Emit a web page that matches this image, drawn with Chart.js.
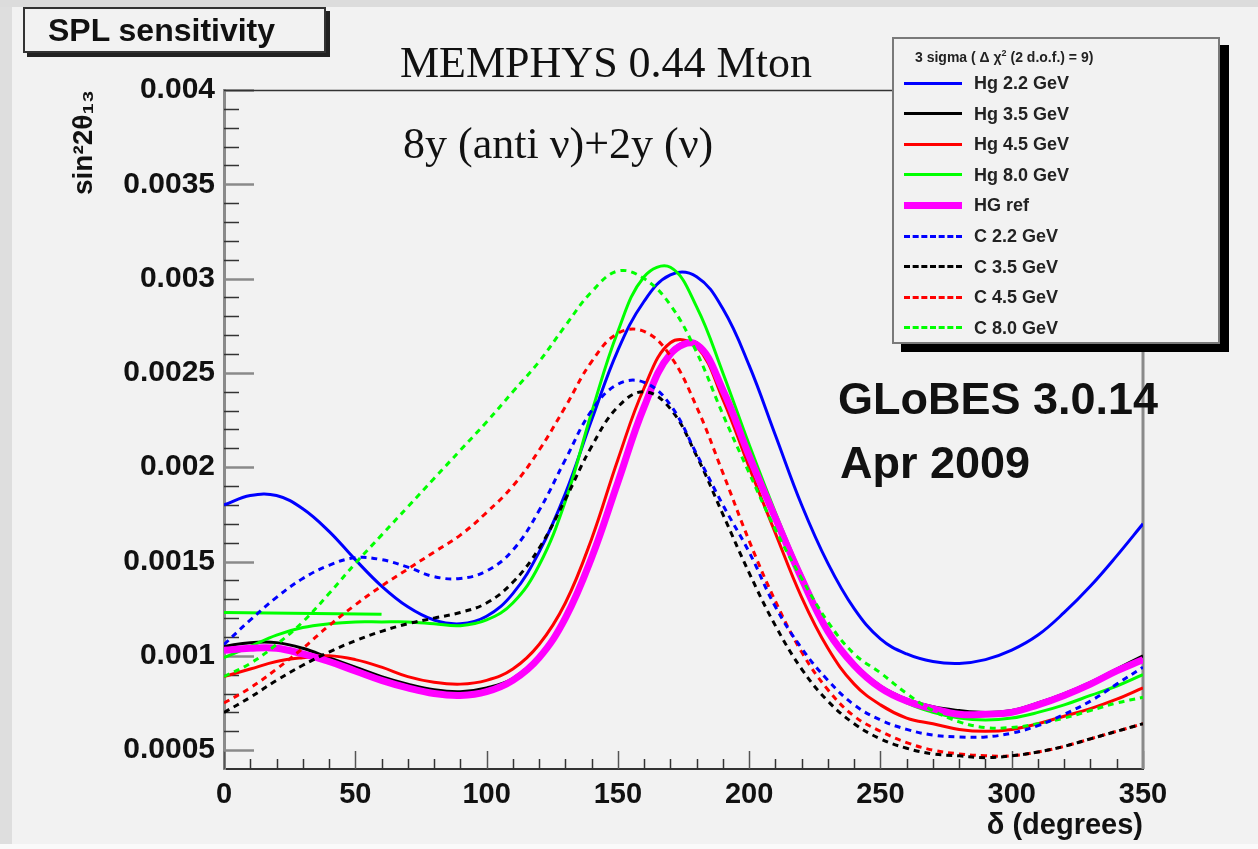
<!DOCTYPE html>
<html>
<head>
<meta charset="utf-8">
<script src="https://cdn.jsdelivr.net/npm/chart.js@4.4.1/dist/chart.umd.min.js"></script>
<style>
    body {
        margin: 0;
        width: 1258px;
        height: 849px;
        overflow: hidden;
        position: relative;
        background: #f2f2f2;
        font-family: "Liberation Sans", Arial, sans-serif;
    }
    .edgeLeft { position: absolute; left: 0; top: 0; width: 12px; height: 849px; background: #dedede; }
    .edgeTop { position: absolute; left: 0; top: 0; width: 1258px; height: 7px; background: #dcdcdc; }
    .edgeBottom { position: absolute; left: 0; top: 844px; width: 1258px; height: 5px; background: #fafafa; }
    #chart { position: absolute; left: 0; top: 0; }
    .note { position: absolute; white-space: nowrap; line-height: 1; color: #111; }
    .serif { font-family: "Liberation Serif", "Times New Roman", serif; font-size: 44px; }
    .big { font-weight: bold; font-size: 45px; }
    #splBox {
        position: absolute; left: 23px; top: 7px; width: 303px; height: 46px;
        box-sizing: border-box; border: 2px solid #333; background: #f2f2f2;
        box-shadow: 4px 4px 0 #222;
        font-weight: bold; font-size: 32px; line-height: 42px; padding-left: 23px; color: #111;
    }
    #legend {
        position: absolute; left: 892px; top: 37px; width: 328px; height: 307px;
        box-sizing: border-box; border: 2px solid #7a7a7a; background: #f2f2f2;
        box-shadow: 9px 8px 0 #000;
    }
    #legend .head { position: absolute; left: 21px; top: 9px; font-weight: bold; font-size: 14px; color: #222; white-space: nowrap; }
    #legend .row { position: absolute; left: 0; height: 0; }
    #legend .sample { position: absolute; left: 10px; width: 58px; }
    #legend .txt { position: absolute; left: 80px; top: -10px; font-weight: bold; font-size: 18px; line-height: 20px; color: #222; white-space: nowrap; }
</style>
</head>
<body>
<div class="edgeLeft"></div>
<div class="edgeTop"></div>
<div class="edgeBottom"></div>
<canvas id="chart" width="1258" height="849"></canvas>
<div id="splBox">SPL sensitivity</div>
<div class="note serif" style="left:400px; top:41px;">MEMPHYS 0.44 Mton</div>
<div class="note serif" style="left:403px; top:122px;">8y (anti ν)+2y (ν)</div>
<div class="note big" style="left:838px; top:376px;">GLoBES 3.0.14</div>
<div class="note big" style="left:840px; top:440px;">Apr 2009</div>
<div id="legend"><div class="head">3 sigma ( Δ χ<sup style="font-size:9px">2</sup> (2 d.o.f.) = 9)</div></div>
<script>
// delta CP (degrees)
const delta = [0, 10, 20, 30, 40, 50, 60, 70, 80, 90, 100, 110, 120, 130, 140, 150, 160, 170,
    180, 190, 200, 210, 220, 230, 240, 250, 260, 270, 280, 290, 300, 310, 320, 330, 340, 350]

// sin^2 2theta13 sensitivity
const hg22 = [0.00180, 0.00185, 0.00185, 0.00178, 0.00166, 0.00151, 0.00137, 0.00126, 0.00119, 0.00117,
    0.00121, 0.00133, 0.00155, 0.00186, 0.00225, 0.00262, 0.00288, 0.00302, 0.00301, 0.00284,
    0.00254, 0.00217, 0.00180, 0.00149, 0.00125, 0.00109, 0.00101, 0.00097, 0.00096, 0.00098,
    0.00103, 0.00111, 0.00123, 0.00137, 0.00153, 0.00170]
const hg35 = [0.00105, 0.00107, 0.00107, 0.00104, 0.00099, 0.00094, 0.00089, 0.00085, 0.00082, 0.00081,
    0.00083, 0.00088, 0.00100, 0.00121, 0.00153, 0.00193, 0.00233, 0.00261, 0.00266, 0.00242,
    0.00207, 0.00174, 0.00142, 0.00114, 0.00096, 0.00084, 0.00077, 0.00073, 0.00071, 0.00070,
    0.00071, 0.00075, 0.00080, 0.00086, 0.00093, 0.00100]
const hg45 = [0.00089, 0.00093, 0.00097, 0.00099, 0.00100, 0.00098, 0.00094, 0.00089, 0.00086, 0.00085,
    0.00087, 0.00093, 0.00106, 0.00128, 0.00162, 0.00204, 0.00242, 0.00266, 0.00264, 0.00236,
    0.00200, 0.00165, 0.00131, 0.00104, 0.00085, 0.00074, 0.00067, 0.00064, 0.00061, 0.00060,
    0.00061, 0.00064, 0.00068, 0.00072, 0.00077, 0.00083]
const hg80 = [0.00099, 0.00105, 0.00111, 0.00115, 0.00117, 0.00118, 0.00118, 0.00118, 0.00117, 0.00116,
    0.00119, 0.00128, 0.00148, 0.00182, 0.00229, 0.00272, 0.00301, 0.00306, 0.00285, 0.00250,
    0.00212, 0.00176, 0.00143, 0.00114, 0.00095, 0.00083, 0.00075, 0.00070, 0.00067, 0.00066,
    0.00067, 0.00070, 0.00074, 0.00079, 0.00084, 0.00090]
const hgRef = [0.00103, 0.00104, 0.00104, 0.00101, 0.00097, 0.00092, 0.00087, 0.00083, 0.00080, 0.00079,
    0.00081, 0.00087, 0.00099, 0.00120, 0.00152, 0.00192, 0.00232, 0.00260, 0.00265, 0.00241,
    0.00206, 0.00173, 0.00141, 0.00113, 0.00095, 0.00083, 0.00076, 0.00072, 0.00069, 0.00069,
    0.00070, 0.00074, 0.00079, 0.00085, 0.00092, 0.00098]
const c22 = [0.00106, 0.00119, 0.00131, 0.00141, 0.00148, 0.00152, 0.00151, 0.00147, 0.00142, 0.00141,
    0.00145, 0.00156, 0.00177, 0.00204, 0.00230, 0.00244, 0.00245, 0.00233, 0.00207, 0.00180,
    0.00155, 0.00126, 0.00104, 0.00087, 0.00074, 0.00066, 0.00061, 0.00058, 0.00057, 0.00057,
    0.00059, 0.00063, 0.00069, 0.00076, 0.00085, 0.00094]
const c35 = [0.00070, 0.00078, 0.00087, 0.00095, 0.00102, 0.00108, 0.00113, 0.00117, 0.00120, 0.00123,
    0.00128, 0.00139, 0.00157, 0.00183, 0.00211, 0.00232, 0.00240, 0.00231, 0.00206, 0.00175,
    0.00144, 0.00116, 0.00093, 0.00076, 0.00064, 0.00056, 0.00051, 0.00048, 0.00047, 0.00046,
    0.00047, 0.00049, 0.00052, 0.00056, 0.00060, 0.00064]
const c45 = [0.00075, 0.00083, 0.00093, 0.00104, 0.00116, 0.00127, 0.00137, 0.00146, 0.00155, 0.00164,
    0.00176, 0.00190, 0.00209, 0.00232, 0.00256, 0.00271, 0.00272, 0.00259, 0.00232, 0.00197,
    0.00161, 0.00129, 0.00102, 0.00082, 0.00068, 0.00060, 0.00054, 0.00050, 0.00048, 0.00047,
    0.00047, 0.00049, 0.00052, 0.00056, 0.00060, 0.00064]
const c80 = [0.00089, 0.00096, 0.00106, 0.00118, 0.00133, 0.00149, 0.00164, 0.00179, 0.00194, 0.00209,
    0.00224, 0.00240, 0.00256, 0.00275, 0.00293, 0.00304, 0.00300, 0.00286, 0.00261, 0.00228,
    0.00197, 0.00167, 0.00141, 0.00118, 0.00101, 0.00091, 0.00080, 0.00071, 0.00065, 0.00062,
    0.00062, 0.00064, 0.00067, 0.00071, 0.00075, 0.00078]

// the short flat green piece at the left edge
const hg80StubDelta = [0, 60]
const hg80StubValues = [0.00123, 0.00122]

const xTicks = [0, 50, 100, 150, 200, 250, 300, 350]
const yTicks = [0.0005, 0.001, 0.0015, 0.002, 0.0025, 0.003, 0.0035, 0.004]
const yTickLabels = ["0.0005", "0.001", "0.0015", "0.002", "0.0025", "0.003", "0.0035", "0.004"]

const series = [
    { label: "Hg 2.2 GeV", values: hg22, color: "#0000ff", width: 3, dash: [], order: 9 },
    { label: "Hg 3.5 GeV", values: hg35, color: "#000000", width: 3, dash: [], order: 8 },
    { label: "Hg 4.5 GeV", values: hg45, color: "#ff0000", width: 3, dash: [], order: 7 },
    { label: "Hg 8.0 GeV", values: hg80, color: "#00ff00", width: 3, dash: [], order: 6 },
    { label: "HG ref", values: hgRef, color: "#ff00ff", width: 7, dash: [], order: 5 },
    { label: "C 2.2 GeV", values: c22, color: "#0000ff", width: 3, dash: [6, 5], order: 1 },
    { label: "C 3.5 GeV", values: c35, color: "#000000", width: 3, dash: [6, 5], order: 2 },
    { label: "C 4.5 GeV", values: c45, color: "#ff0000", width: 3, dash: [6, 5], order: 3 },
    { label: "C 8.0 GeV", values: c80, color: "#00ff00", width: 3, dash: [6, 5], order: 4 },
]

const toPoints = (xs, ys) => xs.map((x, i) => ({ x, y: ys[i] }))

const datasets = series.map((s) => ({
    label: s.label,
    data: toPoints(delta, s.values),
    borderColor: s.color,
    borderWidth: s.width,
    borderDash: s.dash,
    pointRadius: 0,
    tension: 0.4,
    fill: false,
    order: s.order,
}))

datasets.push({
    label: "",
    data: toPoints(hg80StubDelta, hg80StubValues),
    borderColor: "#00ff00",
    borderWidth: 3,
    pointRadius: 0,
    tension: 0,
    fill: false,
    order: 6,
})

// ROOT-like ticks drawn inside the frame, plus top and right frame lines
const rootFrame = {
    id: "rootFrame",
    beforeDatasetsDraw(chart) {
        const { ctx, chartArea: a, scales } = chart
        const x = scales.x
        const y = scales.y
        ctx.save()
        ctx.lineWidth = 1.5
        for (let d = 0; d <= 350; d += 10) {
            const px = Math.round(x.getPixelForValue(d)) + 0.5
            const major = d % 50 === 0
            ctx.strokeStyle = major ? "#555" : "#333"
            ctx.beginPath()
            ctx.moveTo(px, a.bottom)
            ctx.lineTo(px, a.bottom - (major ? 18 : 10))
            ctx.stroke()
        }
        for (let k = 5; k <= 40; k++) {
            const v = k / 10000
            const py = Math.round(y.getPixelForValue(v)) + 0.5
            const major = k % 5 === 0
            ctx.strokeStyle = major ? "#8a8a8a" : "#333"
            ctx.lineWidth = major ? 2.5 : 1.5
            ctx.beginPath()
            ctx.moveTo(a.left, py)
            ctx.lineTo(a.left + (major ? 30 : 15), py)
            ctx.stroke()
        }
        ctx.strokeStyle = "#333"
        ctx.lineWidth = 1.5
        ctx.beginPath()
        ctx.moveTo(a.left, a.top + 0.5)
        ctx.lineTo(a.right, a.top + 0.5)
        ctx.stroke()
        ctx.strokeStyle = "#8a8a8a"
        ctx.lineWidth = 3
        ctx.beginPath()
        ctx.moveTo(a.right, a.top)
        ctx.lineTo(a.right, a.bottom)
        ctx.stroke()
        ctx.restore()
    },
}

const ctx = document.getElementById("chart")

const chart = new Chart(ctx, {
    type: "line",
    data: { datasets },
    plugins: [rootFrame],
    options: {
        responsive: false,
        animation: false,
        devicePixelRatio: 1,
        layout: { padding: { left: 58, top: 90, right: 115, bottom: 0 } },
        plugins: {
            legend: { display: false },
            tooltip: { enabled: false },
        },
        scales: {
            x: {
                type: "linear",
                min: 0,
                max: 350,
                afterFit: (scale) => { scale.height = 80 },
                afterBuildTicks: (scale) => { scale.ticks = xTicks.map((v) => ({ value: v })) },
                grid: { display: false, drawTicks: false },
                border: { display: true, color: "#333", width: 2 },
                ticks: {
                    padding: 9,
                    color: "#111",
                    maxRotation: 0,
                    font: { family: "Liberation Sans", weight: "bold", size: 29 },
                },
                title: {
                    display: true,
                    text: "δ (degrees)",
                    align: "end",
                    color: "#111",
                    padding: { top: 0, bottom: 6 },
                    font: { family: "Liberation Sans", weight: "bold", size: 29 },
                },
            },
            y: {
                type: "linear",
                min: 0.0004,
                max: 0.004,
                afterFit: (scale) => { scale.width = 166 },
                afterBuildTicks: (scale) => { scale.ticks = yTicks.map((v) => ({ value: v })) },
                grid: { display: false, drawTicks: false },
                border: { display: true, color: "#8a8a8a", width: 3 },
                ticks: {
                    padding: 9,
                    color: "#111",
                    font: { family: "Liberation Sans", weight: "bold", size: 30 },
                    callback: (value, index) => yTickLabels[index],
                },
                title: {
                    display: true,
                    text: "sin²2θ₁₃",
                    align: "end",
                    color: "#111",
                    padding: { top: 9, bottom: 0 },
                    font: { family: "Liberation Sans", weight: "bold", size: 28 },
                },
            },
        },
    },
})

// legend box, built from the same series list
const legendBox = document.getElementById("legend")
series.forEach((s, i) => {
    const row = document.createElement("div")
    row.className = "row"
    row.style.top = (44 + i * 30.6) + "px"
    const sample = document.createElement("div")
    sample.className = "sample"
    sample.style.borderTop = s.width + "px " + (s.dash.length ? "dashed " : "solid ") + s.color
    sample.style.top = (-s.width / 2) + "px"
    const txt = document.createElement("div")
    txt.className = "txt"
    txt.textContent = s.label
    row.appendChild(sample)
    row.appendChild(txt)
    legendBox.appendChild(row)
})
</script>
</body>
</html>
